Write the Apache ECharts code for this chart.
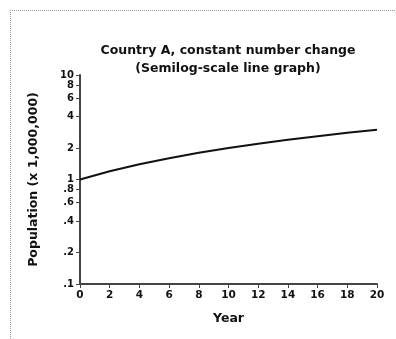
<!DOCTYPE html>
<html>
<head>
<meta charset="utf-8">
<script src="https://cdn.jsdelivr.net/npm/echarts@6/dist/echarts.min.js"></script>
<style>
html,body{margin:0;padding:0;background:#fff;}
#c{width:396px;height:339px;}
</style>
</head>
<body>
<div id="c"></div>
<script>
const years = [0, 2, 4, 6, 8, 10, 12, 14, 16, 18, 20];
const population = [1.0, 1.2, 1.4, 1.6, 1.8, 2.0, 2.2, 2.4, 2.6, 2.8, 3.0];
const yTickValues = [0.1, 0.2, 0.4, 0.6, 0.8, 1, 2, 4, 6, 8, 10];
const yTickLabels = ['.1', '.2', '.4', '.6', '.8', '1', '2', '4', '6', '8', '10'];
const titleLines = ['Country A, constant number change', '(Semilog-scale line graph)'];
const xName = 'Year';
const yName = 'Population (x 1,000,000)';

const font = '"DejaVu Sans", Arial, Helvetica, sans-serif';
const chart = echarts.init(document.getElementById('c'), null, {renderer: 'canvas'});
chart.setOption({
  animation: false,
  backgroundColor: '#fff',
  title: {
    text: titleLines.join('\n'),
    left: 223, top: 37, textAlign: 'center',
    textStyle: {fontFamily: font, fontSize: 12.5, fontWeight: 'bold', color: '#111', lineHeight: 18}
  },
  graphic: [
    {type: 'line', shape: {x1: 10, y1: 10.5, x2: 396, y2: 10.5}, style: {stroke: '#999', lineWidth: 1, lineDash: [1, 1]}},
    {type: 'line', shape: {x1: 10.5, y1: 10, x2: 10.5, y2: 339}, style: {stroke: '#999', lineWidth: 1, lineDash: [1, 1]}}
  ],
  grid: {left: 80, right: 19, top: 75, bottom: 55, containLabel: false},
  xAxis: {
    type: 'value', min: 0, max: 20, interval: 2,
    name: xName, nameLocation: 'middle', nameGap: 28,
    nameTextStyle: {fontFamily: font, fontSize: 12.5, fontWeight: 'bold', color: '#111'},
    axisLine: {lineStyle: {color: '#444', width: 2}},
    axisTick: {length: 4, lineStyle: {color: '#444', width: 1}},
    axisLabel: {fontFamily: font, fontSize: 10.5, fontWeight: 'bold', color: '#111', margin: 6},
    splitLine: {show: false}
  },
  yAxis: {
    type: 'log', logBase: 10, min: 0.1, max: 10,
    name: yName, nameLocation: 'middle', nameGap: 40, nameRotate: 90,
    nameTextStyle: {fontFamily: font, fontSize: 12.5, fontWeight: 'bold', color: '#111'},
    axisLine: {show: true, lineStyle: {color: '#444', width: 2}},
    axisTick: {show: true, length: 4, customValues: yTickValues, lineStyle: {color: '#444', width: 1}},
    axisLabel: {
      fontFamily: font, fontSize: 10, fontWeight: 'bold', color: '#111', margin: 6,
      customValues: yTickValues,
      formatter: function (v) {
        for (let i = 0; i < yTickValues.length; i++) {
          if (Math.abs(yTickValues[i] - v) < 1e-6 * Math.max(1, v)) return yTickLabels[i];
        }
        return '';
      }
    },
    minorTick: {show: false},
    splitLine: {show: false}
  },
  series: [{
    type: 'line',
    data: years.map((y, i) => [y, population[i]]),
    showSymbol: false,
    smooth: false,
    lineStyle: {color: '#111', width: 2}
  }]
});
</script>
</body>
</html>
